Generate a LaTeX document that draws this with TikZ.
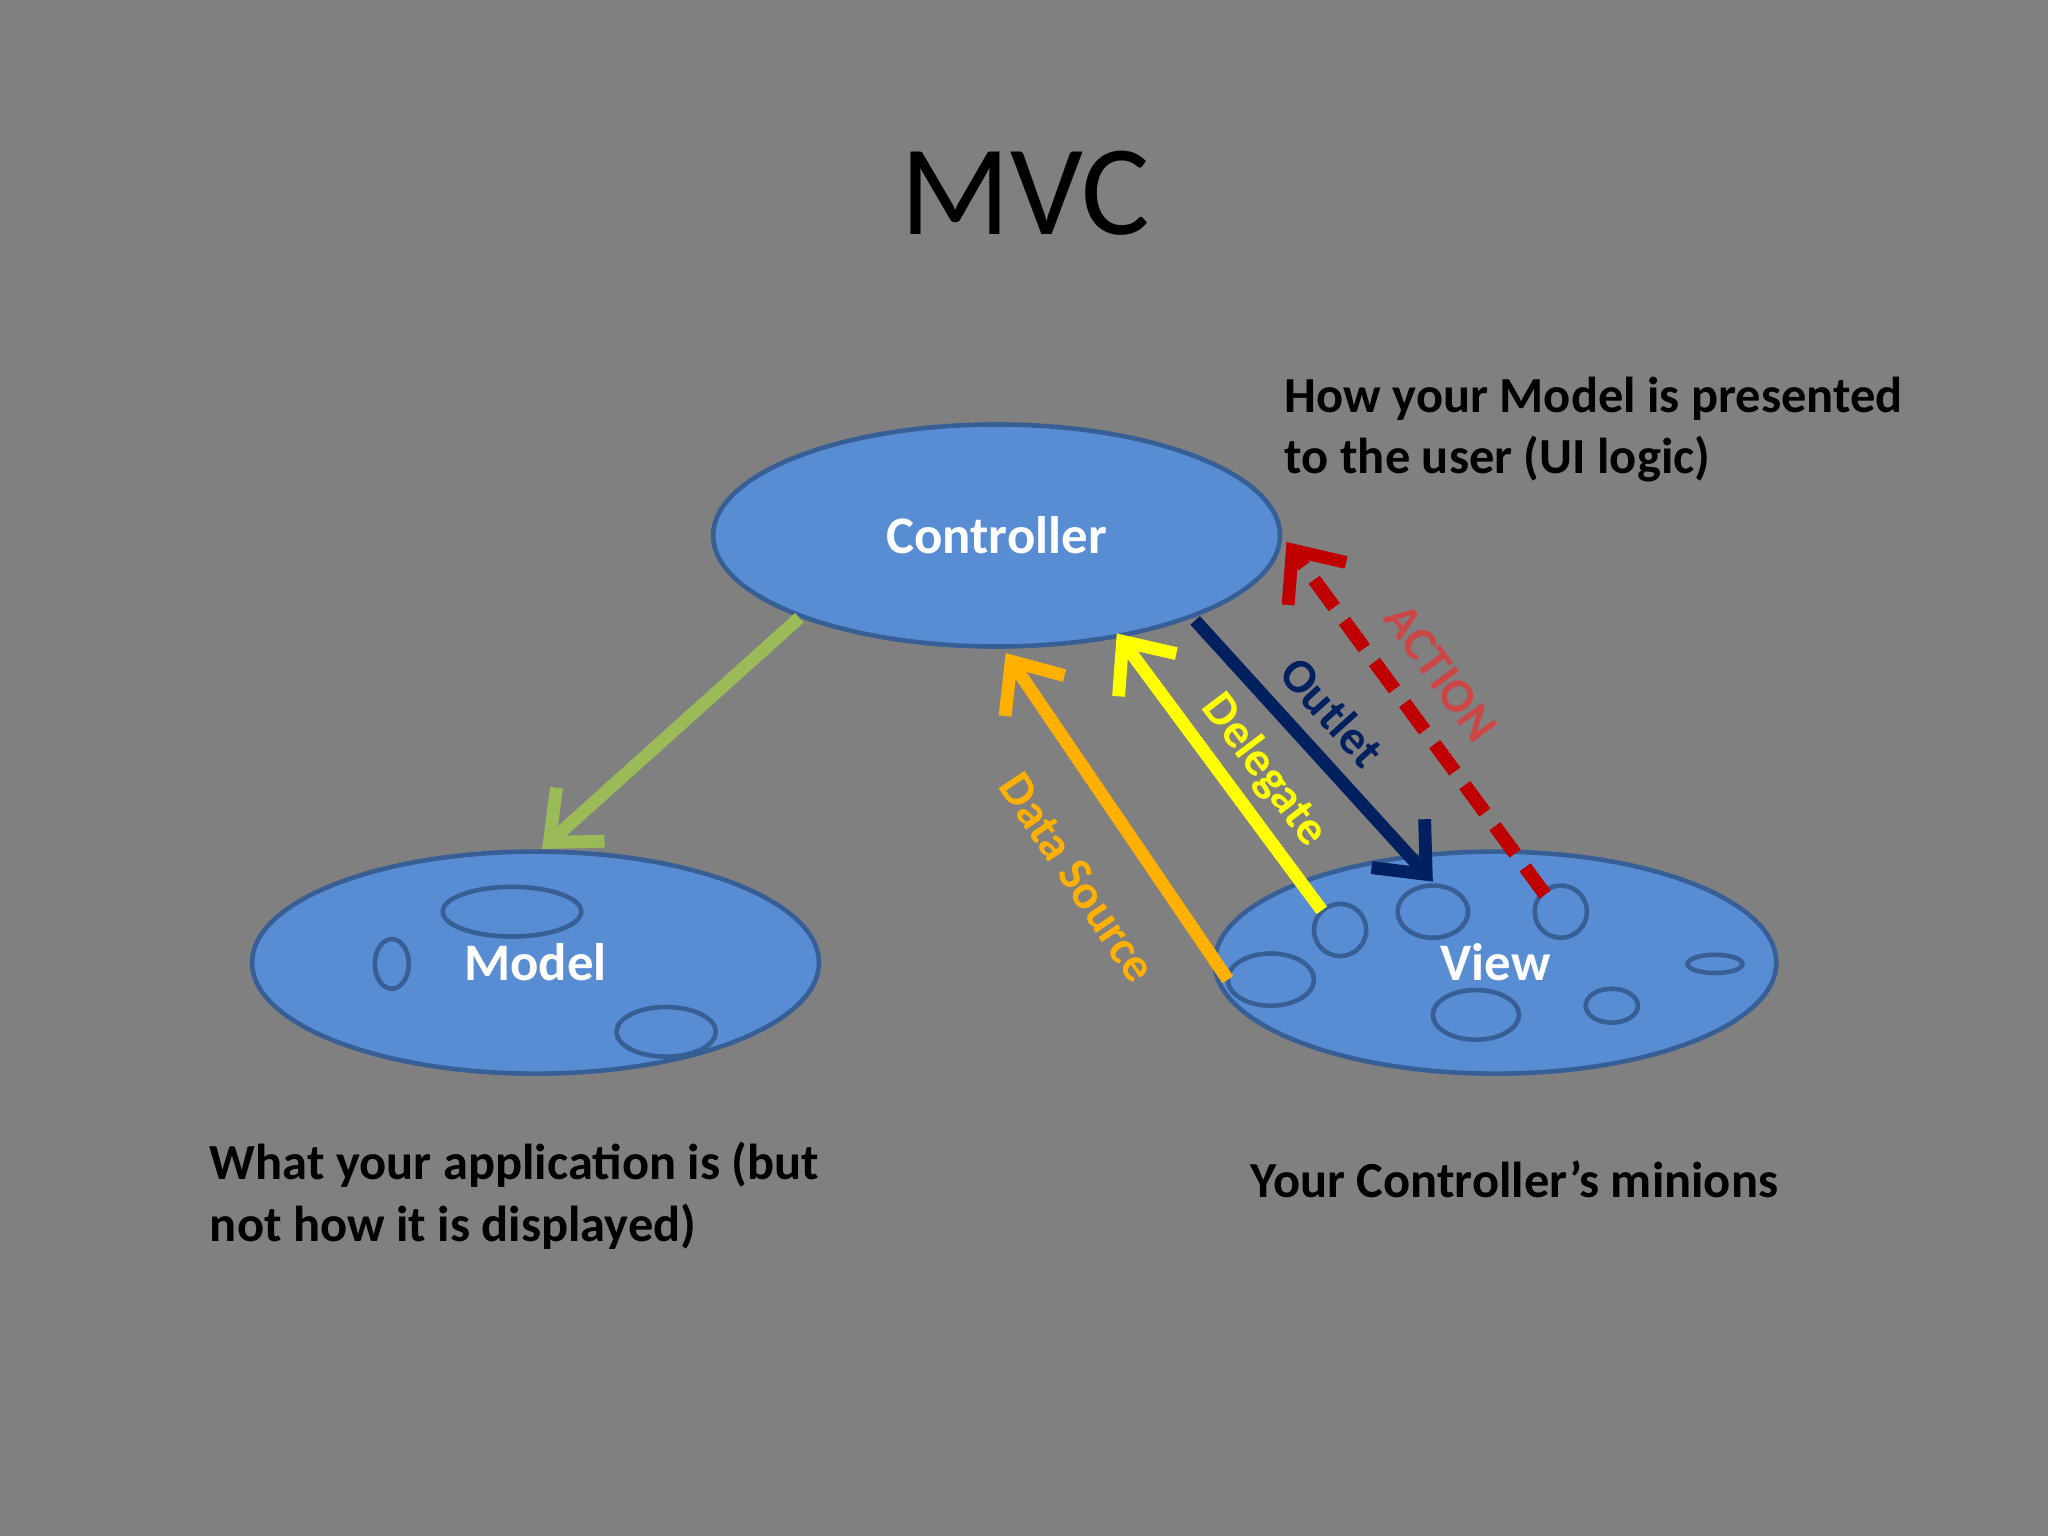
\documentclass[tikz,border=0pt]{standalone}
\usepackage{fontspec}
\setmainfont{Carlito}
\usetikzlibrary{positioning,arrows.meta,shapes.geometric}
\definecolor{slidebg}{RGB}{128,128,128}
\definecolor{blobfill}{RGB}{88,141,212}
\definecolor{blobline}{RGB}{55,95,150}
\definecolor{mgreen}{RGB}{155,187,89}
\definecolor{morange}{RGB}{255,176,0}
\definecolor{myellow}{RGB}{255,255,0}
\definecolor{mnavy}{RGB}{0,32,96}
\definecolor{mred}{RGB}{192,0,0}
\definecolor{mredtxt}{RGB}{205,70,70}
\tikzset{
  blob/.style={ellipse,fill=blobfill,draw=blobline,line width=1pt,minimum width=4.34cm,minimum height=1.7cm,
    text=white,font=\bfseries\fontsize{11.5}{13}\selectfont},
  spot/.style={ellipse,draw=blobline,line width=1pt,inner sep=0pt},
  flow/.style={line width=2.8pt,-{Straight Barb[length=3.2mm,width=5.5mm,line width=2.8pt]}},
  note/.style={align=left,anchor=north west,font=\bfseries\fontsize{11}{13.3}\selectfont,inner sep=0pt},
  tag/.style={font=\bfseries\fontsize{10.5}{12}\selectfont}
}
\begin{document}
\begin{tikzpicture}[yscale=-1]
\fill[slidebg] (0,0) rectangle (15.68,11.76);
\useasboundingbox (0,0) rectangle (15.68,11.76);

\node (title) at (7.85,1.48) {\fontsize{28}{30}\selectfont MVC};

\node[blob] (ctrl) at (7.63,4.10) {Controller};
\node[blob] (model) at (4.10,7.37) {Model};
\node[blob,minimum width=4.30cm] (view) at (11.45,7.37) {View};

% spots
\node[spot,minimum width=1.06cm,minimum height=0.38cm] (m1) at (3.92,6.98) {};
\node[spot,minimum width=0.26cm,minimum height=0.38cm] (m2) at (3.00,7.38) {};
\node[spot,minimum width=0.76cm,minimum height=0.38cm] (m3) at (5.10,7.90) {};
\node[spot,minimum width=0.66cm,minimum height=0.40cm] (v1) at (9.73,7.50) {};
\node[spot,minimum width=0.40cm,minimum height=0.40cm] (v2) at (10.26,7.12) {};
\node[spot,minimum width=0.54cm,minimum height=0.40cm] (v3) at (10.97,6.98) {};
\node[spot,minimum width=0.40cm,minimum height=0.40cm] (v4) at (11.95,6.98) {};
\node[spot,minimum width=0.66cm,minimum height=0.38cm] (v5) at (11.30,7.77) {};
\node[spot,minimum width=0.40cm,minimum height=0.26cm] (v6) at (12.34,7.70) {};
\node[spot,minimum width=0.42cm,minimum height=0.14cm] (v7) at (13.13,7.38) {};

% arrow ends
\coordinate (gA) at (6.12,4.73); \coordinate (gB) at (4.15,6.50);
\coordinate (oA) at (9.40,7.50); \coordinate (oB) at (7.70,5.00);
\coordinate (yA) at (10.12,6.97); \coordinate (yB) at (8.55,4.85);
\coordinate (nA) at (9.15,4.75); \coordinate (nB) at (10.97,6.75);
\coordinate (rA) at (11.83,6.85); \coordinate (rB) at (9.85,4.15);

\draw[flow,mgreen] (gA) -- (gB);
\draw[flow,morange] (oA) -- (oB);
\draw[flow,myellow] (yA) -- (yB);
\draw[flow,mnavy] (nA) -- (nB);
\draw[flow,mred,dash pattern=on 2.6mm off 1.3mm,line width=3pt] (rA) -- (rB);

\node[tag,morange,rotate=-56] (ds) at (8.25,6.72) {Data Source};
\node[tag,myellow,rotate=-53] (dl) at (9.68,5.90) {Delegate};
\node[tag,mnavy,rotate=-48] (ol) at (10.20,5.45) {Outlet};
\node[tag,mredtxt,rotate=-54] (ac) at (11.03,5.15) {ACTION};

\node[note] (vnote) at (9.83,2.88) {How your Model is presented\\to the user (UI logic)};
\node[note] (mnote) at (1.60,8.74) {What your application is (but\\not how it is displayed)};
\node[note] (cnote) at (9.57,8.88) {Your Controller’s minions};
\end{tikzpicture}
\end{document}
